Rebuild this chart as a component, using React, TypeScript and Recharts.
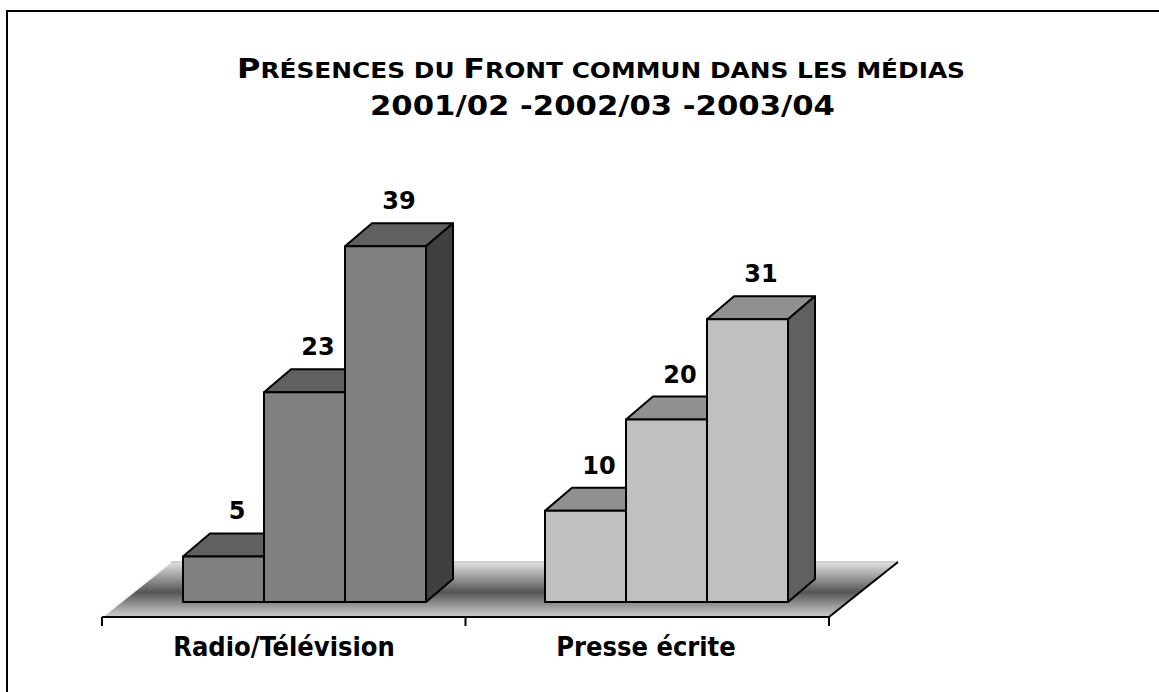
import { Bar, BarChart, Customized, LabelList, XAxis, YAxis } from "recharts";

// Categories and one value list per season
const categories = ["Radio/Télévision", "Presse écrite"];
const seasons = ["2001/02", "2002/03", "2003/04"];
const season2001 = [5, 10];
const season2002 = [23, 20];
const season2003 = [39, 31];

const titleLine2 = "2001/02 -2002/03 -2003/04";

// face colours per category: front, top, side
const palettes = [
  { front: "#808080", top: "#606060", side: "#404040" },
  { front: "#c0c0c0", top: "#909090", side: "#606060" },
];

const W = 1159;
const H = 692;
const MARGIN = { top: 146, right: 312, bottom: 60, left: 123 };
const AXIS_H = 30;
const PLOT_BOTTOM = H - MARGIN.bottom - AXIS_H;
const PLOT_LEFT = MARGIN.left;
const PLOT_RIGHT = W - MARGIN.right;
const DX = 27;
const DY = 23;

const data = categories.map((name, i) => ({
  name,
  s1: season2001[i],
  s2: season2002[i],
  s3: season2003[i],
}));

function Bar3D(props: any) {
  const { x, y, width: w, height: h, index } = props;
  const p = palettes[index] ?? palettes[0];
  return (
    <g stroke="#000" strokeWidth={2} strokeLinejoin="round">
      <polygon
        fill={p.top}
        points={`${x},${y} ${x + DX},${y - DY} ${x + w + DX},${y - DY} ${x + w},${y}`}
      />
      <polygon
        fill={p.side}
        points={`${x + w},${y} ${x + w + DX},${y - DY} ${x + w + DX},${y + h - DY} ${x + w},${y + h}`}
      />
      <rect x={x} y={y} width={w} height={h} fill={p.front} />
    </g>
  );
}

function ValueLabel(props: any) {
  const { x, y, width, value } = props;
  return (
    <text
      x={x + width / 2 + DX / 2}
      y={y - DY - 14}
      textAnchor="middle"
      fontFamily="DejaVu Sans"
      fontWeight="bold"
      fontSize={24}
      fill="#000"
    >
      {value}
    </text>
  );
}

function CategoryTick(props: any) {
  const { x, payload } = props;
  return (
    <text
      x={x - 20}
      y={PLOT_BOTTOM + 54}
      textAnchor="middle"
      fontFamily="DejaVu Sans Condensed"
      fontWeight="bold"
      fontSize={27}
      fill="#000"
    >
      {payload.value}
    </text>
  );
}

function Floor() {
  const frontY = PLOT_BOTTOM + 15;
  const backY = PLOT_BOTTOM - 40;
  const fl = PLOT_LEFT - 21;
  const fr = PLOT_RIGHT - 18;
  const depth = 69;
  const mid = (fl + fr) / 2;
  return (
    <g>
      <defs>
        <linearGradient id="floorGrad" x1="0" y1="0" x2="0" y2="1">
          <stop offset="0%" stopColor="#e0e0e0" />
          <stop offset="20%" stopColor="#b0b0b0" />
          <stop offset="55%" stopColor="#555555" />
          <stop offset="85%" stopColor="#a8a8a8" />
          <stop offset="100%" stopColor="#cccccc" />
        </linearGradient>
      </defs>
      <polygon
        fill="url(#floorGrad)"
        points={`${fl},${frontY} ${fl + depth},${backY} ${fr + depth},${backY} ${fr},${frontY}`}
      />
      <line x1={fl} y1={frontY} x2={fl + depth} y2={backY} stroke="#f4f4f4" strokeWidth={2} />
      <line x1={fl + depth} y1={backY} x2={fr + depth} y2={backY} stroke="#d0d0d0" strokeWidth={2} />
      <line x1={fr} y1={frontY} x2={fr + depth} y2={backY} stroke="#000" strokeWidth={2} />
      <line x1={fl} y1={frontY} x2={fr} y2={frontY} stroke="#000" strokeWidth={2} />
      {[fl, mid, fr].map((tx) => (
        <line key={tx} x1={tx} y1={frontY} x2={tx} y2={frontY + 9} stroke="#000" strokeWidth={2} />
      ))}
    </g>
  );
}

function Title() {
  const big = 27;
  const small = 21;
  return (
    <g fontFamily="DejaVu Sans" fontWeight="bold" fill="#000">
      <text x={237} y={78} textLength={728} lengthAdjust="spacingAndGlyphs">
        <tspan fontSize={big}>P</tspan>
        <tspan fontSize={small}>RÉSENCES DU </tspan>
        <tspan fontSize={big}>F</tspan>
        <tspan fontSize={small}>RONT COMMUN DANS LES MÉDIAS</tspan>
      </text>
      <text x={370} y={115} fontSize={27} textLength={465} lengthAdjust="spacingAndGlyphs">
        {titleLine2}
      </text>
    </g>
  );
}

function Frame() {
  return <rect x={7} y={11} width={1300} height={900} fill="none" stroke="#000" strokeWidth={2} />;
}

export default function App() {
  return (
    <div style={{ position: "absolute", left: 0, top: 0, width: W, height: H, background: "#fff" }}>
      <BarChart width={W} height={H} data={data} margin={MARGIN} barGap={0} barSize={81}>
        <Customized component={<Frame />} />
        <Customized component={<Title />} />
        <Customized component={<Floor />} />
        <XAxis
          dataKey="name"
          height={AXIS_H}
          axisLine={false}
          tickLine={false}
          tick={<CategoryTick />}
          interval={0}
        />
        <YAxis hide domain={[0, 50]} />
        {(["s1", "s2", "s3"] as const).map((key, i) => (
          <Bar key={key} dataKey={key} name={seasons[i]} shape={<Bar3D />} isAnimationActive={false}>
            <LabelList dataKey={key} content={<ValueLabel />} />
          </Bar>
        ))}
      </BarChart>
    </div>
  );
}
